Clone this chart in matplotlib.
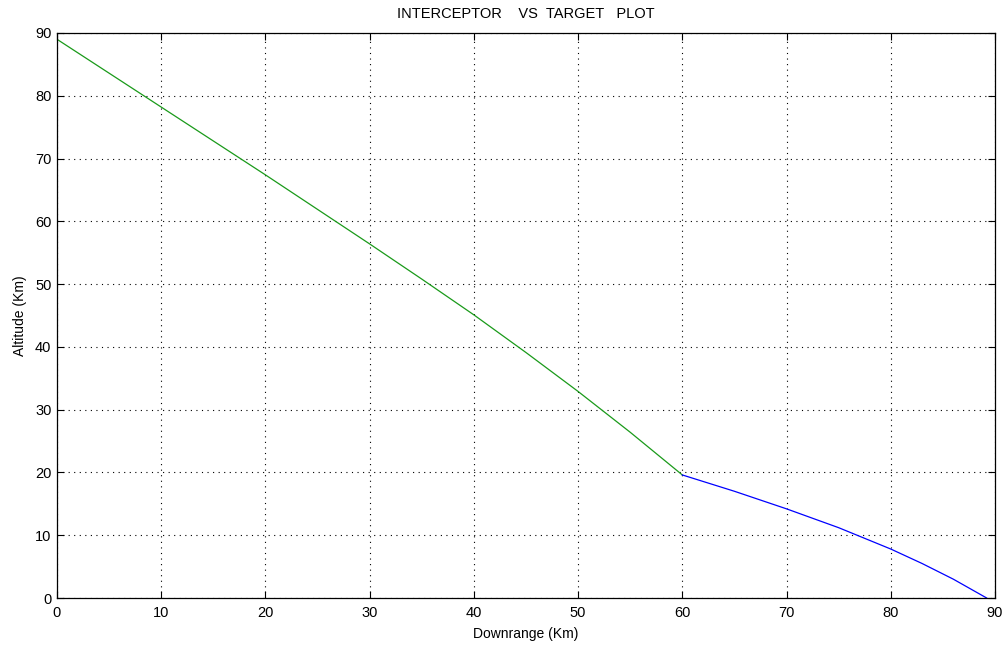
import matplotlib
matplotlib.use('Agg')
import matplotlib.pyplot as plt

plt.rcParams['font.family'] = ['Liberation Sans', 'DejaVu Sans']

# interceptor (green) and target (blue) trajectories, km
interceptor_x = [0, 5, 10, 15, 20, 25, 30, 35, 40, 45, 50, 55, 60]
interceptor_y = [89, 83.6, 78.2, 72.8, 67.4, 61.9, 56.4, 50.8, 45.1, 39.1, 32.9, 26.4, 19.6]
target_x = [60, 65, 70, 75, 80, 83, 86, 89.2]
target_y = [19.6, 17.0, 14.2, 11.2, 7.8, 5.5, 3.0, 0]

fig = plt.figure(figsize=(10.03, 6.45), dpi=100)
ax = fig.add_axes([57 / 1003, 1 - 598 / 645, 938 / 1003, 565 / 645])

ax.plot(interceptor_x, interceptor_y, color='#1a9a1a', linewidth=0.9)
ax.plot(target_x, target_y, color='#0000ff', linewidth=0.9)

ax.set_xlim(0, 90)
ax.set_ylim(0, 90)
ax.set_xticks(range(0, 91, 10))
ax.set_yticks(range(0, 91, 10))
ax.grid(True, color='black', linestyle=(0, (1, 4)), linewidth=0.8)
ax.tick_params(direction='in', top=True, right=True, length=5, labelsize=10.5)
ax.tick_params(axis='x', pad=6)
ax.tick_params(axis='y', pad=4)
for s in ax.spines.values():
    s.set_linewidth(0.9)

ax.set_xlabel('Downrange (Km)', fontsize=10, labelpad=5)
ax.set_ylabel('Altitude (Km)', fontsize=10, labelpad=6)
ax.set_title('INTERCEPTOR    VS  TARGET   PLOT', fontsize=10.5, pad=11)

fig.savefig('out.png', dpi=100)
